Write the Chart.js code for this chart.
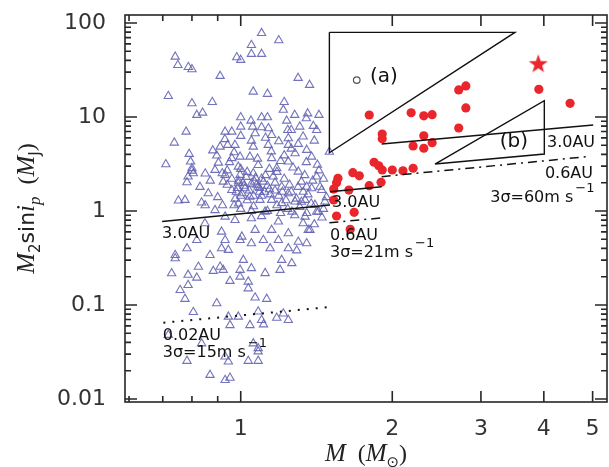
<!DOCTYPE html>
<html>
<head>
<meta charset="utf-8">
<script src="https://cdn.jsdelivr.net/npm/chart.js@4/dist/chart.umd.min.js"></script>
<style>
  html, body { margin: 0; padding: 0; background: #fff; }
  #wrap { width: 609px; height: 467px; position: relative; }
</style>
</head>
<body>
<div id="wrap"><canvas id="massChart"></canvas></div>
<script>
// axis values
const xTickLabels = [1, 2, 3, 4, 5];
const xMinorTicks = [0.6, 0.7, 0.8, 0.9];
const yTickLabels = [0.01, 0.1, 1, 10, 100];

// dwarf hosts (open triangles): [M, M2 sin i]
const dwarfHosts = [
  [1.10,78],[1.19,65.5],[1.05,58.3],[1.05,46.8],[1.10,46.8],[0.982,43.2],[1.00,40.4],[0.741,43.8],
  [0.75,35.7],[0.787,34],[0.80,32.2],[0.91,27.3],[1.30,26.0],[1.37,21.9],[0.718,16.7],[1.059,18.6],
  [1.13,17.6],[0.80,14.0],[0.878,14.4],[1.22,14.4],[1.215,11.9],[0.818,10.5],[0.84,11.1],[1.28,10.5],
  [1.358,10.9],[1.43,10.5],[1.00,9.93],[1.048,9.13],[1.10,9.93],[1.13,9.93],[1.234,9.13],[1.35,9.69],
  [0.779,6.97],[1.00,7.89],[1.056,7.89],[1.10,7.77],[1.135,7.58],[1.31,7.89],[1.394,8.02],[0.931,6.97],
  [0.96,6.97],[1.00,6.28],[1.068,6.71],[1.152,6.43],[1.24,7.27],[1.26,7.27],[1.415,7.27],[1.243,5.93],
  [0.738,5.33],[0.71,3.14],[0.79,4.04],[0.795,3.35],[0.80,2.68],[0.782,2.02],[0.786,2.32],[0.752,1.29],
  [0.775,1.31],[0.862,1.54],[0.91,4.83],[0.896,3.88],[0.903,3.26],[0.889,2.73],[0.931,2.42],[1.50,4.26],
  [0.80,2.85],[0.805,2.52],[0.836,1.23],[0.919,2.52],[0.923,2.05],[0.942,5.04],[0.974,5.04],[0.96,3.64],
  [0.997,3.78],[0.989,2.96],[0.997,2.42],[0.989,1.97],[0.96,1.67],[1.005,1.54],[1.02,1.74],[1.043,1.42],
  [1.059,4.83],[1.043,3.78],[1.083,3.08],[1.059,2.52],[1.109,2.05],[1.083,1.81],[1.092,1.31],[1.134,5.04],
  [1.152,3.64],[1.179,2.85],[1.16,2.32],[1.206,1.81],[1.243,1.54],[1.206,1.21],[1.243,5.04],[1.243,3.35],
  [1.282,4.11],[1.301,2.62],[1.32,2.05],[1.331,1.60],[1.383,3.78],[1.415,2.32],[1.383,1.74],[1.448,1.67],
  [1.47,1.26],[1.352,4.46],[1.301,5.16],[1.152,1.31],[1.282,1.26],[0.931,0.87],[0.889,1.02],[0.974,0.80],
  [1.05,0.836],[1.118,0.983],[1.188,0.77],[1.264,0.983],[1.342,0.87],[1.426,0.983],[1.152,0.628],[1.068,0.628],
  [0.916,0.602],[0.849,0.74],[1.243,0.579],[1.362,0.628],[1.005,0.533],
  [0.94,1.9],[0.96,2.2],[0.98,1.6],[1.01,2.0],[1.03,2.6],[1.05,1.95],[1.07,2.25],[1.09,1.6],
  [1.12,2.4],[1.14,1.7],[1.17,2.0],[1.19,1.45],[1.22,2.2],[1.25,1.9],[1.27,2.9],[1.29,1.35],
  [1.34,2.4],[1.36,1.5],[1.39,2.1],[1.43,2.7],[1.46,2.2],[0.90,1.4],[0.87,2.1],[0.85,1.15],
  [0.92,1.15],[0.99,1.2],[1.06,1.12],[1.13,1.0],[1.18,1.15],[1.24,1.05],[1.31,1.1],[1.38,1.2],
  [1.42,3.1],[1.35,3.3],[1.20,3.4],[1.08,3.6],[0.95,3.3],[0.85,2.5],[0.83,1.8],[1.00,1.05],
  [1.10,0.88],[1.28,0.90],[1.45,0.85],[0.97,4.2],[1.15,4.3],[1.26,4.6],[1.40,5.6],[1.33,6.2],
  [1.19,5.5],[1.12,6.0],[0.93,5.8],[0.88,4.4],[1.05,5.6],[1.22,3.9],
  [1.352,1.81],[1.437,1.81],[1.342,1.31],[1.404,1.16],[1.352,0.95],[1.415,0.98],[1.33,0.74],[1.373,0.628],
  [1.40,0.72],[1.46,1.05],[1.48,1.4],
  [0.985,1.75],[1.00,1.45],[1.015,1.85],[1.03,1.3],[1.04,1.65],[1.06,1.45],[1.075,1.9],[1.09,1.75],
  [1.10,1.45],[1.115,1.6],[0.975,1.35],[0.99,2.1],[1.025,2.3],[1.065,2.05],[1.10,2.2],[1.13,1.85],
  [1.145,1.5],[1.17,1.65],[1.21,1.6],[1.23,1.3],[1.26,1.6],[1.30,1.8],[1.32,1.25],[1.18,2.6],
  [1.14,2.8],[1.00,2.8],[0.94,2.7],[0.97,1.15],[1.05,1.0],[1.20,0.95],
  [0.741,0.34],[0.741,0.314],[0.782,0.40],[0.818,0.491],[0.869,0.34],[0.916,0.40],[0.945,0.385],[0.931,0.491],
  [0.997,0.491],[1.05,0.453],[1.109,0.491],[1.188,0.491],[1.144,0.40],[1.243,0.40],[1.301,0.47],[1.352,0.453],
  [1.292,0.38],[1.263,0.278],[1.206,0.301],[1.012,0.301],[0.997,0.236],[1.05,0.246],[0.91,0.255],[0.882,0.23],
  [0.923,0.236],[0.824,0.255],[0.786,0.209],[0.818,0.195],[0.729,0.217],[0.952,0.18],[0.997,0.20],[1.035,0.177],
  [1.118,0.218],[1.197,0.236],[0.786,0.163],[0.758,0.144],[1.035,0.15],[1.068,0.12],[1.126,0.116],[0.775,0.116],
  [0.896,0.104],[0.805,0.084],[0.945,0.075],[0.989,0.075],[1.083,0.085],[1.10,0.069],[1.179,0.073],[1.215,0.081],
  [1.243,0.069],[0.952,0.061],[1.043,0.061],[1.11,0.062],[0.718,0.048],[0.836,0.039],[1.059,0.039],[1.083,0.0347],
  [1.083,0.032],[0.782,0.0254],[0.931,0.0283],[0.945,0.025],[1.035,0.0254],[1.083,0.0254],[0.869,0.018],[0.931,0.0159],
  [0.952,0.0168]
];

// giant hosts (filled red circles)
const giantHosts = [
  [1.80,10.5],[2.18,11.1],[2.31,10.3],[2.40,10.6],[2.71,19.4],[2.80,21.4],[2.80,12.5],[2.71,7.64],
  [3.91,19.7],[4.51,14.0],[1.91,6.59],[1.91,5.88],[2.31,6.32],[2.40,5.33],[2.20,4.92],[2.31,4.65],
  [1.84,3.30],[1.88,3.03],[1.91,2.73],[2.00,2.73],[2.10,2.68],[2.20,2.85],[1.67,2.56],[1.72,2.37],
  [1.80,1.86],[1.90,2.02],[1.56,2.23],[1.55,2.00],[1.53,1.71],[1.64,1.67],[1.53,1.31],[1.55,0.885],
  [1.68,0.969],[1.65,0.639]
];
const starHost = [[3.90, 37.3]];
const openHost = [[1.70, 24.7]];

// detection limits and regions
const limit3AUdwarf = [[0.698, 0.773], [1.504, 1.16]];
const limit002AU = [[0.702, 0.0648], [1.482, 0.0945]];
const limit3AUmid = [[1.504, 1.60], [1.905, 1.81]];
const limit06AUmid = [[1.50, 0.75], [1.91, 0.845]];
const limit06AUgiant = [[1.905, 2.32], [4.865, 3.78]];
const limit3AUgiant = [[1.905, 5.16], [5.013, 8.22]];
const regionA = [[1.50, 79.6], [3.505, 79.6], [1.50, 4.17], [1.50, 79.6]];
const regionB = [[2.431, 3.16], [4.009, 14.9], [4.009, 4.04], [2.431, 3.16]];

// text notes, anchored at data coordinates
const notes = [
  { text: '3.0AU', x: 0.698, y: 0.516 },
  { text: '0.02AU', x: 0.70, y: 0.0424 },
  { text: '3\u03c3=15m s', sup: '\u22121', x: 0.70, y: 0.028 },
  { text: '3.0AU', x: 1.518, y: 1.10 },
  { text: '0.6AU', x: 1.504, y: 0.491 },
  { text: '3\u03c3=21m s', sup: '\u22121', x: 1.504, y: 0.324 },
  { text: '3.0AU', x: 4.058, y: 4.80 },
  { text: '0.6AU', x: 4.02, y: 2.24 },
  { text: '3\u03c3=60m s', sup: '\u22121', x: 3.13, y: 1.25 },
  { text: '(a)', x: 1.806, y: 23.6, big: true },
  { text: '(b)', x: 3.27, y: 4.80, big: true }
];

const pts = arr => arr.map(p => ({ x: p[0], y: p[1] }));

// filled star for the marked giant
function makeStar(size, color) {
  const c = document.createElement('canvas');
  c.width = c.height = size;
  const g = c.getContext('2d');
  g.fillStyle = color;
  g.beginPath();
  for (let i = 0; i < 10; i++) {
    const r = i % 2 ? size * 0.2 : size * 0.5;
    const a = -Math.PI / 2 + i * Math.PI / 5;
    g.lineTo(size / 2 + r * Math.cos(a), size / 2 + r * Math.sin(a) + size * 0.05);
  }
  g.closePath();
  g.fill();
  return c;
}

function lineSet(data, dash, width) {
  return {
    type: 'line', data: pts(data), showLine: true, pointRadius: 0,
    borderColor: '#111', borderWidth: width || 1.5, borderDash: dash || [],
    fill: false, tension: 0
  };
}

// frame with inward ticks on all four sides
const frameTicks = {
  id: 'frameTicks',
  afterDatasetsDraw(chart) {
    const { ctx, chartArea: a, scales: { x, y } } = chart;
    ctx.save();
    ctx.strokeStyle = '#262626';
    ctx.lineWidth = 1.6;
    ctx.strokeRect(a.left, a.top, a.right - a.left, a.bottom - a.top);
    ctx.beginPath();
    const xt = (v, len) => {
      const p = x.getPixelForValue(v);
      ctx.moveTo(p, a.bottom); ctx.lineTo(p, a.bottom - len);
      ctx.moveTo(p, a.top); ctx.lineTo(p, a.top + len);
    };
    const yt = (v, len) => {
      const p = y.getPixelForValue(v);
      ctx.moveTo(a.left, p); ctx.lineTo(a.left + len, p);
      ctx.moveTo(a.right, p); ctx.lineTo(a.right - len, p);
    };
    xTickLabels.forEach(v => xt(v, 11));
    xMinorTicks.forEach(v => xt(v, 6));
    yTickLabels.forEach(v => {
      yt(v, 12);
      if (v < 100) for (let k = 2; k <= 9; k++) yt(v * k, 6);
    });
    ctx.stroke();

    // notes
    ctx.fillStyle = '#111';
    ctx.textBaseline = 'alphabetic';
    ctx.textAlign = 'left';
    notes.forEach(n => {
      const px = x.getPixelForValue(n.x), py = y.getPixelForValue(n.y);
      ctx.font = (n.big ? '20px' : '16px') + ' "DejaVu Sans"';
      ctx.fillText(n.text, px, py);
      if (n.sup) {
        const w = ctx.measureText(n.text).width;
        ctx.font = '13px "DejaVu Sans"';
        ctx.fillText(n.sup, px + w + 2, py - 10);
      }
    });
    ctx.restore();
  }
};

// axis titles with italic symbols and subscripts
function drawRuns(ctx, runs, cx, baseline) {
  let total = 0;
  runs.forEach(r => { ctx.font = r.f; r.w = ctx.measureText(r.t).width; total += r.w; });
  let px = cx - total / 2;
  runs.forEach(r => {
    ctx.font = r.f;
    ctx.fillText(r.t, px, baseline + (r.dy || 0));
    px += r.w;
  });
}

const axisTitles = {
  id: 'axisTitles',
  afterDraw(chart) {
    const { ctx, chartArea: a } = chart;
    const it = 'italic 25px "Liberation Serif"';
    const rm = '24px "Liberation Serif"';
    const sans = '22px "DejaVu Sans"';
    const sub = '15px "DejaVu Sans"';
    const subIt = 'italic 17px "Liberation Serif"';
    ctx.save();
    ctx.fillStyle = '#222';
    ctx.textBaseline = 'alphabetic';
    ctx.textAlign = 'left';
    drawRuns(ctx, [
      { t: 'M', f: it }, { t: '  (', f: rm }, { t: 'M', f: it },
      { t: '\u2299', f: sub, dy: 6 }, { t: ')', f: rm }
    ], (a.left + a.right) / 2, chart.height - 6);
    ctx.translate(34, (a.top + a.bottom) / 2);
    ctx.rotate(-Math.PI / 2);
    drawRuns(ctx, [
      { t: 'M', f: it }, { t: '2', f: sub, dy: 6 }, { t: 'sin', f: sans },
      { t: 'i', f: it }, { t: 'p', f: subIt, dy: 6 }, { t: '  (', f: rm },
      { t: 'M', f: it }, { t: 'J', f: sub, dy: 6 }, { t: ')', f: rm }
    ], 0, 0);
    ctx.restore();
  }
};

const tickFont = { family: 'DejaVu Sans', size: 22 };

// drop the label overflow padding so the plot box matches the picture
function fixBox(size, dim) {
  return s => {
    s[dim] = size;
    s.paddingTop = 0; s.paddingBottom = 0; s.paddingLeft = 0; s.paddingRight = 0;
  };
}

// labelled ticks plus blank ones at both ends, so edge labels add no padding
const edgeTicks = labels => s => {
  s.ticks = [s.min].concat(labels, [s.max]).map(v => ({ value: v }));
};
const tickText = labels => v => (labels.includes(v) ? String(v) : '');

new Chart(document.getElementById('massChart'), {
  type: 'scatter',
  data: {
    datasets: [
      lineSet(limit3AUdwarf),
      lineSet(limit002AU, [2, 7], 2),
      lineSet(limit3AUmid),
      lineSet(limit06AUmid, [9, 5, 2, 5]),
      lineSet(limit06AUgiant, [9, 5, 2, 5]),
      lineSet(limit3AUgiant),
      lineSet(regionA, [], 1.4),
      lineSet(regionB, [], 1.4),
      {
        data: pts(starHost), pointStyle: makeStar(20, '#e8262b'), pointRadius: 10,
        borderWidth: 0
      },
      {
        data: pts(giantHosts), pointStyle: 'circle', pointRadius: 4.6,
        backgroundColor: '#e8262b', borderColor: '#e8262b', borderWidth: 0
      },
      {
        data: pts(openHost), pointStyle: 'circle', pointRadius: 3.3,
        backgroundColor: 'rgba(0,0,0,0)', borderColor: '#555', borderWidth: 1.2
      },
      {
        data: pts(dwarfHosts), pointStyle: 'triangle', pointRadius: 4.8,
        backgroundColor: 'rgba(0,0,0,0)', borderColor: 'rgba(100,100,180,0.9)', borderWidth: 1.1
      }
    ]
  },
  options: {
    responsive: true,
    maintainAspectRatio: false,
    animation: false,
    layout: { autoPadding: false, padding: { top: 15, right: 2, left: 0, bottom: 0 } },
    plugins: { legend: { display: false }, tooltip: { enabled: false } },
    scales: {
      x: {
        type: 'logarithmic', min: 0.589, max: 5.34,
        grid: { display: false, drawTicks: true, tickLength: 12 }, border: { display: false },
        afterBuildTicks: edgeTicks(xTickLabels),
        afterFit: fixBox(65, 'height'),
        ticks: { font: tickFont, color: '#333', padding: 2, maxRotation: 0, autoSkip: false,
                 callback: tickText(xTickLabels) }
      },
      y: {
        type: 'logarithmic', min: 0.00929, max: 121.7,
        grid: { display: false, drawTicks: false }, border: { display: false },
        afterBuildTicks: edgeTicks(yTickLabels),
        afterFit: fixBox(125, 'width'),
        ticks: { font: tickFont, color: '#333', padding: 19, autoSkip: false,
                 callback: tickText(yTickLabels) }
      }
    }
  },
  plugins: [frameTicks, axisTitles]
});
</script>
</body>
</html>
